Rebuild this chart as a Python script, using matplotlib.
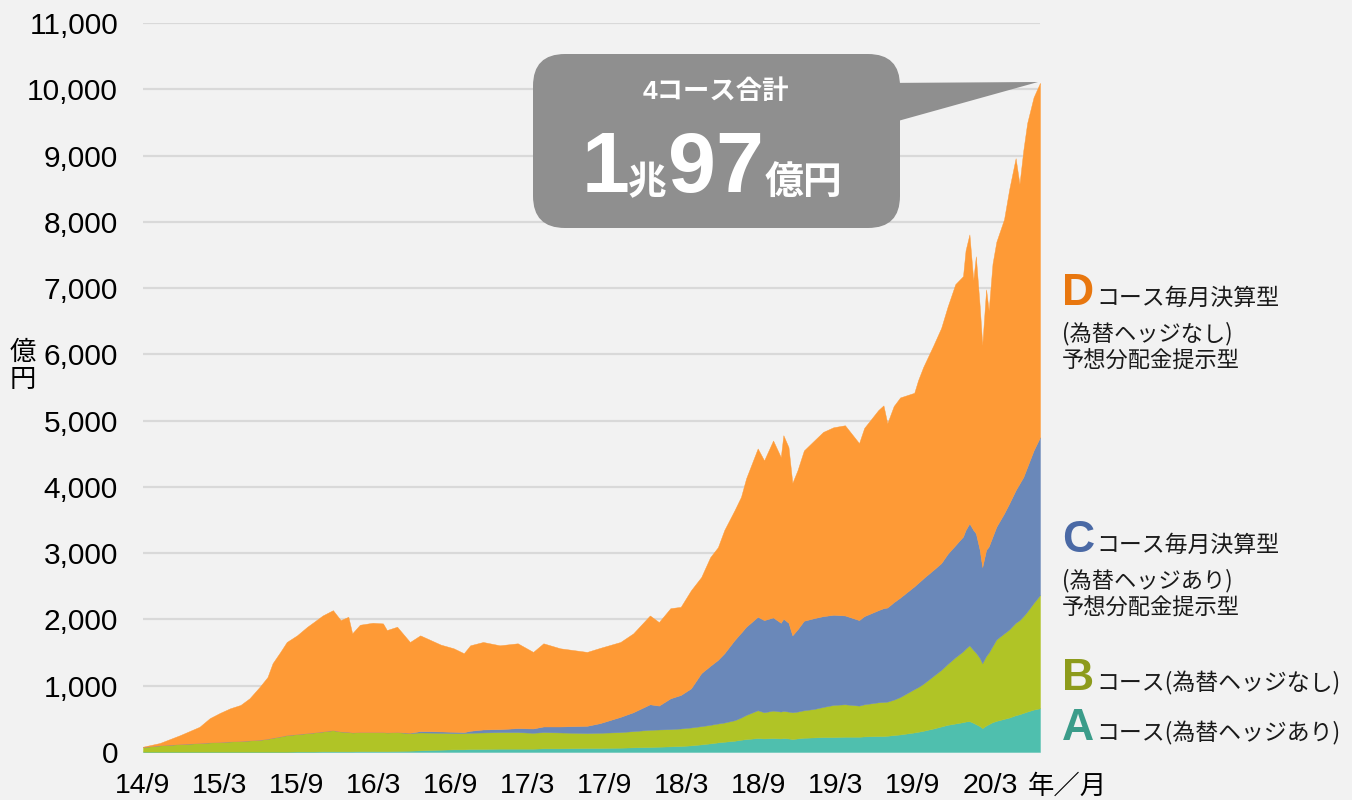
import matplotlib.pyplot as plt
from matplotlib.patches import FancyBboxPatch, Polygon
import numpy as np

# months since 2014/9
months = [0, 1.3, 2.9, 4.4, 5.2, 6.0, 6.8, 7.6, 8.3, 9.1, 9.7, 10.1, 10.7, 11.2,
          12.0, 12.8, 13.3, 14.0, 14.8, 15.4, 16.0, 16.3, 16.9, 17.9, 18.7, 19.0,
          19.8, 20.8, 21.6, 23.2, 24.2, 25.0, 25.5, 26.5, 27.8, 29.2, 30.4, 31.2,
          32.5, 34.6, 35.6, 37.2, 38.2, 39.5, 40.2, 41.1, 41.9, 42.7, 43.5, 44.2,
          44.8, 45.3, 46.1, 46.6, 47.0, 47.9, 48.4, 49.1, 49.7, 49.9, 50.3, 50.6,
          51.0, 51.5, 52.3, 53.0, 53.8, 54.7, 55.8, 56.2, 57.3, 57.7, 58.0, 58.5,
          59.0, 60.1, 60.4, 60.8, 61.6, 62.2, 62.7, 63.3, 63.9, 64.1, 64.4, 64.7,
          64.9, 65.2, 65.4, 65.7, 65.9, 66.2, 66.5, 67.1, 67.5, 68.0, 68.3, 68.6,
          68.9, 69.4, 69.9]

# 億円
course_a = [5, 5, 5, 5, 5, 5, 5, 5, 5, 5, 5, 5, 5, 5,
            8, 8, 8, 10, 10, 10, 10, 10, 12, 12, 12, 12,
            15, 20, 25, 35, 40, 40, 45, 45, 50, 50, 50, 55,
            55, 60, 60, 65, 70, 75, 80, 85, 90, 100, 115, 130,
            145, 155, 170, 185, 195, 210, 205, 210, 205, 210, 205, 195,
            205, 215, 220, 225, 225, 230, 230, 235, 240, 240, 245, 255,
            265, 295, 305, 320, 355, 385, 410, 430, 450, 460, 465, 440,
            420, 390, 360, 400, 420, 450, 470, 500, 520, 555, 570, 590,
            610, 640, 660]
course_b = [70, 95, 115, 130, 140, 145, 155, 160, 170, 180, 195, 210, 230, 250,
            262, 277, 287, 300, 320, 300, 295, 285, 288, 288, 288, 283,
            285, 265, 270, 255, 245, 245, 245, 250, 250, 250, 240, 245,
            240, 225, 230, 235, 245, 260, 260, 260, 265, 270, 275, 280,
            285, 290, 310, 335, 365, 420, 395, 415, 405, 410, 405, 405,
            405, 415, 430, 455, 485, 490, 470, 485, 510, 515, 515, 535,
            565, 655, 675, 710, 795, 855, 920, 1000, 1070, 1100, 1145, 1100,
            1080, 1030, 980, 1050, 1080, 1150, 1230, 1290, 1330, 1395, 1420, 1460,
            1510, 1610, 1710]
course_c = [0, 0, 0, 0, 0, 0, 0, 0, 0, 0, 0, 0, 0, 0,
            0, 0, 0, 0, 0, 0, 0, 0, 0, 0, 0, 0,
            0, 5, 20, 20, 20, 15, 30, 45, 45, 60, 65, 85,
            90, 110, 145, 230, 285, 385, 360, 465, 505, 590, 800, 890,
            960, 1045, 1210, 1280, 1330, 1410, 1390, 1405, 1340, 1390, 1340, 1160,
            1240, 1350, 1370, 1370, 1360, 1340, 1290, 1330, 1390, 1415, 1420, 1470,
            1500, 1550, 1570, 1590, 1600, 1610, 1660, 1690, 1730, 1790, 1840, 1810,
            1800, 1630, 1450, 1600, 1600, 1650, 1700, 1810, 1900, 2000, 2060, 2100,
            2180, 2300, 2380]
course_d = [5, 35, 135, 245, 365, 440, 500, 545, 635, 800, 930, 1125, 1275, 1405,
            1490, 1605, 1665, 1750, 1810, 1680, 1735, 1495, 1620, 1650, 1640, 1545,
            1590, 1370, 1445, 1310, 1260, 1190, 1290, 1320, 1265, 1280, 1155, 1255,
            1180, 1115, 1135, 1130, 1190, 1340, 1260, 1360, 1330, 1480, 1450, 1640,
            1700, 1860, 1960, 2050, 2240, 2540, 2410, 2670, 2500, 2770, 2650, 2300,
            2400, 2570, 2680, 2780, 2830, 2870, 2670, 2840, 3020, 3060, 2780, 2960,
            3020, 2920, 3060, 3190, 3390, 3550, 3730, 3940, 3930, 4220, 4360, 3770,
            4180, 3680, 3350, 3930, 3560, 4120, 4300, 4440, 4740, 5010, 4520, 4930,
            5190, 5330, 5347]

tick_pos = [0, 6, 12, 18, 24, 30, 36, 42, 48, 54, 60, 66]
tick_labels = ['14/9', '15/3', '15/9', '16/3', '16/9', '17/3', '17/9',
               '18/3', '18/9', '19/3', '19/9', '20/3']

colors = ['#4fbfae', '#b0c426', '#6a88b9', '#fe9a36']
bg = '#f2f2f2'

plt.rcParams['font.family'] = ['Liberation Sans', 'Noto Sans CJK JP', 'DejaVu Sans']
jp = ['Noto Sans CJK JP', 'DejaVu Sans']

fig = plt.figure(figsize=(13.52, 8), dpi=100, facecolor=bg)
ax = fig.add_axes([143 / 1352, 1 - 752 / 800, (1040 - 143) / 1352, (752 - 23) / 800])
ax.set_facecolor(bg)

polys = ax.stackplot(months, course_a, course_b, course_c, course_d,
                     colors=colors, linewidth=0)
for p in polys:
    p.set_edgecolor('face')
    p.set_linewidth(0.3)

ax.set_xlim(0, 69.9)
ax.set_ylim(0, 11000)
ax.set_yticks(range(0, 11001, 1000))
ax.set_yticklabels([f'{v:,}' for v in range(0, 11001, 1000)], fontsize=21.5)
ax.set_xticks(tick_pos)
ax.set_xticklabels(tick_labels, fontsize=20.5,
                   family=['Liberation Sans Narrow', 'Liberation Sans'])
ax.tick_params(length=0)
ax.tick_params(axis='y', pad=18)
ax.tick_params(axis='x', pad=15)
ax.grid(axis='y', color='#d9d9d9', linewidth=1.6)
ax.set_axisbelow(True)
for s in ax.spines.values():
    s.set_visible(False)

# overlay in pixel coordinates for labels and callout
ov = fig.add_axes([0, 0, 1, 1])
ov.set_xlim(0, 1352)
ov.set_ylim(800, 0)
ov.axis('off')
ov.patch.set_alpha(0)

ov.text(23, 353, '億', fontsize=19, ha='center', va='center')
ov.text(23, 380, '円', fontsize=19, ha='center', va='center')
ov.text(1067, 786, '年／月', fontsize=19, ha='center', va='center')

# callout
box = FancyBboxPatch((533, 54), 367, 174, boxstyle='round,pad=0,rounding_size=32',
                     facecolor='#8f8f8f', edgecolor='none')
ov.add_patch(box)
ov.add_patch(Polygon([(880, 83), (1038, 82), (880, 126)], closed=True,
                     facecolor='#8f8f8f', edgecolor='none'))
ov.text(716, 92, '4コース合計', color='white', fontsize=19, fontweight='bold',
        ha='center', va='center')
ov.text(582, 192, '1', color='white', fontsize=62, fontweight='bold', va='baseline')
ov.text(628, 194, '兆', color='white', fontsize=28, fontweight='bold', va='baseline')
ov.text(668, 192, '97', color='white', fontsize=62, fontweight='bold', va='baseline')
ov.text(765, 194, '億円', color='white', fontsize=28, fontweight='bold', va='baseline')

# course labels
labels = [
    ('D', '#e8770f', 305, 'コース毎月決算型', ['(為替ヘッジなし)', '予想分配金提示型']),
    ('C', '#4a69a5', 552, 'コース毎月決算型', ['(為替ヘッジあり)', '予想分配金提示型']),
    ('B', '#8d9b1c', 690, 'コース(為替ヘッジなし)', []),
    ('A', '#3b9c8a', 740, 'コース(為替ヘッジあり)', []),
]
for letter, col, base, rest, extra in labels:
    ov.text(1062, base, letter, color=col, fontsize=32, fontweight='bold', va='baseline')
    ov.text(1096, base, rest, fontsize=16.5, va='baseline', color='#1a1a1a', family=jp)
    for i, line in enumerate(extra):
        ov.text(1062, base + 35 + 28 * i, line, fontsize=16, va='baseline',
                color='#1a1a1a', family=jp)

fig.savefig('out.png', dpi=100, facecolor=bg)
